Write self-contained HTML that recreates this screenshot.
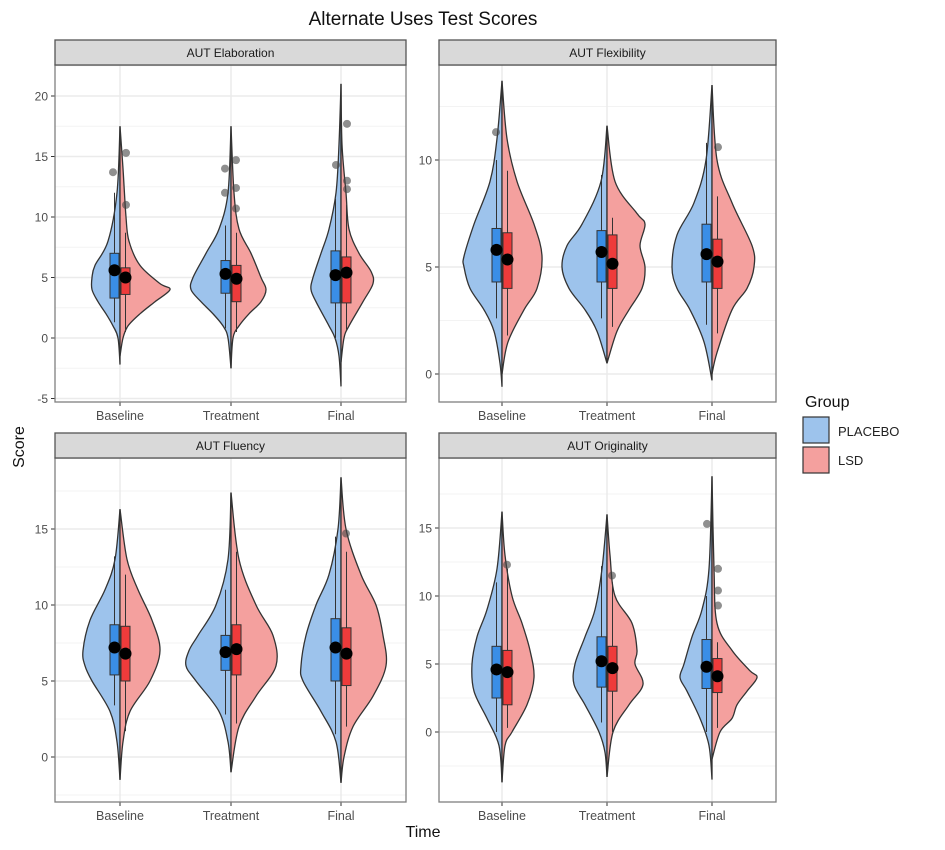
<!DOCTYPE html>
<html><head><meta charset="utf-8"><style>
body{margin:0;background:#fff;}
svg{display:block;font-family:"Liberation Sans",sans-serif;}
</style></head><body>
<svg id="s" width="945" height="850" xmlns="http://www.w3.org/2000/svg">
<text x="423" y="25" font-size="19" text-anchor="middle" fill="#111">Alternate Uses Test Scores</text>
<text x="423" y="837" font-size="16" text-anchor="middle" fill="#111">Time</text>
<text transform="translate(24,447) rotate(-90)" font-size="16" text-anchor="middle" fill="#111">Score</text>
<text x="805" y="407" font-size="16" fill="#111">Group</text>
<rect x="803" y="417" width="26" height="26" fill="#9dc3ec" stroke="#333" stroke-width="1.2"/>
<rect x="803" y="447" width="26" height="26" fill="#f4a09e" stroke="#333" stroke-width="1.2"/>
<text x="838" y="436" font-size="13" fill="#222">PLACEBO</text>
<text x="838" y="465" font-size="13" fill="#222">LSD</text>
<g id="g"></g>
</svg>
<script>
var NS="http://www.w3.org/2000/svg",G=document.getElementById('g');
function el(t,a,txt){var e=document.createElementNS(NS,t);for(var k in a)e.setAttribute(k,a[k]);if(txt!=null)e.textContent=txt;G.appendChild(e);return e;}
function cr(pts){
  var d="";for(var i=0;i<pts.length-1;i++){var p0=pts[i-1]||pts[i],p1=pts[i],p2=pts[i+1],p3=pts[i+2]||p2;
  var c1=[p1[0]+(p2[0]-p0[0])/6,p1[1]+(p2[1]-p0[1])/6],c2=[p2[0]-(p3[0]-p1[0])/6,p2[1]-(p3[1]-p1[1])/6];
  d+=" C"+c1[0].toFixed(1)+","+c1[1].toFixed(1)+" "+c2[0].toFixed(1)+","+c2[1].toFixed(1)+" "+p2[0].toFixed(1)+","+p2[1].toFixed(1);}return d;}
var P=[
 {x0:55,x1:406,y0:40,y1:398,title:"AUT Elaboration",z:338,k:12.1,ticks:[-5,0,5,10,15,20],lo:-5.3,hi:22.6,cx:[120,231,341],
  v:[
  {top:17.5,bot:-2.2,p:[[12,3],[8,12],[6,25],[5,28],[4,28],[3,22],[2,14],[1,7],[0,2]],l:[[14,3],[10,6],[8,9],[6,20],[4.5,40],[4,50],[3,35],[2,20],[1,8],[0,3]],lbot:-1.5,
   bp:[3.3,7,1.3,12,5.6],bl:[3.6,5.8,0.5,8.7,5.0]},
  {top:17.5,bot:-2.5,p:[[12,3],[9,12],[7,25],[5,38],[4,40],[3,30],[2,18],[1,8],[0,3]],l:[[12,3],[9,8],[7,20],[5,30],[4,35],[3,30],[2,18],[1,8],[0,2]],lbot:-2.5,
   bp:[3.7,6.4,0.8,9.3,5.3],bl:[3,6,0.5,8.7,4.9]},
  {top:21,bot:-4,p:[[16,2],[12,5],[9,12],[7,20],[5,28],[4,30],[3,25],[1,12],[0,6],[-1.5,2]],l:[[16,1],[12,5],[9,8],[7,18],[5.5,30],[4.5,32],[3,22],[1,8],[0,3]],lbot:-2,
   bp:[2.9,7.2,0,11.5,5.2],bl:[2.9,6.7,0.7,11,5.4]}],
  out:[[113,13.7],[126,15.3],[126,11],[225,14],[225,12],[236,14.7],[236,12.4],[236,10.7],[336,14.3],[347,17.7],[347,13],[347,12.3]]},
 {x0:439,x1:776,y0:40,y1:398,title:"AUT Flexibility",z:374,k:21.4,ticks:[0,5,10],lo:-1.1,hi:14.4,cx:[502,607,712],
  v:[
  {top:13.7,bot:-0.6,p:[[11,5],[9,12],[7,28],[5.5,38],[5,38],[4,32],[3,18],[2,8],[0.5,2]],l:[[11,5],[9,15],[7,32],[5.5,40],[4,35],[3,22],[1.5,6]],lbot:0,
   bp:[4.3,6.8,2.6,10,5.8],bl:[4,6.6,1.8,9.5,5.35]},
  {top:11.6,bot:0.5,p:[[9,6],[7,25],[6,40],[5,45],[4,38],[3,22],[2,10]],l:[[9,8],[7.5,30],[7,38],[6,33],[5,38],[4,35],[3,22],[2,10]],lbot:0.5,
   bp:[4.3,6.7,2.6,9.3,5.7],bl:[4,6.5,2.2,7.3,5.15]},
  {top:13.5,bot:-0.3,p:[[10,6],[8,18],[6.5,35],[5,40],[4,35],[3,22],[1.5,8]],l:[[10,5],[8,20],[6,40],[5,42],[4,35],[3,20],[1,5]],lbot:0,
   bp:[4.3,7,2.3,10.8,5.6],bl:[4,6.3,1.9,8.3,5.25]}],
  out:[[496,11.3],[718,10.6]]},
 {x0:55,x1:406,y0:433,y1:798,title:"AUT Fluency",z:757,k:15.2,ticks:[0,5,10,15],lo:-2.7,hi:19.5,cx:[120,231,341],
  v:[
  {top:16.3,bot:-1.5,p:[[13,5],[11,15],[9,30],[7,37],[6,35],[5,28],[3,10],[1,3]],l:[[13,7],[11,18],[9,32],[7,40],[5,30],[3,10],[1,3]],lbot:-1.5,
   bp:[5.4,8.7,3.4,13.2,7.2],bl:[5,8.6,1.7,12,6.8]},
  {top:17.4,bot:-1,p:[[13,3],[10,15],[8,33],[7,42],[6,45],[5,35],[3,12],[1,3]],l:[[13,8],[10,25],[8,42],[6,45],[4,25],[2,8]],lbot:-1,
   bp:[5.7,8,2.8,11,6.9],bl:[5.4,8.7,2.2,13.5,7.1]},
  {top:18.4,bot:-1.7,p:[[15,3],[12,12],[10,25],[8,35],[6,40],[5,38],[3,20],[1,5]],l:[[15,5],[12,20],[10,35],[8,42],[6,45],[4,32],[2,12],[0,3]],lbot:-1.7,
   bp:[5,9.1,1.5,14.5,7.2],bl:[4.7,8.5,2,13.5,6.8]}],
  out:[[346,14.7]]},
 {x0:439,x1:776,y0:433,y1:798,title:"AUT Originality",z:732,k:13.6,ticks:[0,5,10,15],lo:-4.85,hi:19.9,cx:[502,607,712],
  v:[
  {top:16.2,bot:-3.7,p:[[12,5],[9,15],[7,25],[5,30],[3,28],[1,15],[-1,3]],l:[[13,3],[10,10],[8,20],[6,28],[4,32],[2,25],[0,10],[-1,3]],lbot:-3.7,
   bp:[2.5,6.3,0,11,4.6],bl:[2,6,0.3,12,4.4]},
  {top:16,bot:-3.3,p:[[12,5],[9,12],[7,22],[5,32],[3.5,33],[2,22],[0,8],[-1.5,2]],l:[[13,3],[10,8],[8,25],[6,30],[5,28],[3.5,36],[2,22],[0,6]],lbot:-3.3,
   bp:[3.3,7,0.7,12.2,5.2],bl:[3,6.3,0,11,4.7]},
  {top:18.8,bot:-3.5,p:[[12,3],[9,10],[7,20],[5,28],[4,32],[3,25],[1,12],[-1,3]],l:[[12,2],[8,5],[6,20],[4.5,38],[4,45],[3,35],[2,25],[1,20],[0,8]],lbot:-2,
   bp:[3.2,6.8,0,10,4.8],bl:[2.9,5.4,0.3,6.6,4.1]}],
  out:[[707,15.3],[718,12],[718,10.4],[718,9.3],[507,12.3],[612,11.5]]}
];
P.forEach(function(p){
  var y0=p.y0+25, Y=function(v){return p.z-v*p.k;};
  el('rect',{x:p.x0,y:y0,width:p.x1-p.x0,height:p.y1-y0+4,fill:'#fff'});
  var bot=p.y1+4;
  for(var i=0;i<p.ticks.length+1;i++){var v=p.ticks[0]-2.5+5*i;var yy=Y(v);if(yy>y0&&yy<bot)el('line',{x1:p.x0,x2:p.x1,y1:yy,y2:yy,stroke:'#f3f3f3','stroke-width':1});}
  p.ticks.forEach(function(t){var yy=Y(t);el('line',{x1:p.x0,x2:p.x1,y1:yy,y2:yy,stroke:'#ebebeb','stroke-width':1.5});
    el('line',{x1:p.x0-4,x2:p.x0,y1:yy,y2:yy,stroke:'#333'});
    el('text',{x:p.x0-7,y:yy+4.5,'font-size':12,'text-anchor':'end',fill:'#4d4d4d'},String(t));});
  var labs=["Baseline","Treatment","Final"];
  p.cx.forEach(function(c,i){el('line',{x1:c,x2:c,y1:y0,y2:bot,stroke:'#ebebeb','stroke-width':1.5});
    el('line',{x1:c,x2:c,y1:bot,y2:bot+4,stroke:'#333'});
    el('text',{x:c,y:bot+18,'font-size':12.5,'text-anchor':'middle',fill:'#4d4d4d'},labs[i]);});
  p.v.forEach(function(v,i){var c=p.cx[i];
    var pts=[[c,Y(v.top)]].concat(v.p.map(function(q){return [c-q[1],Y(q[0])];})).concat([[c,Y(v.bot)]]);
    el('path',{d:"M"+pts[0][0]+","+pts[0][1]+cr(pts)+"Z",fill:'#9dc3ec',stroke:'#333','stroke-width':1.3});
    var pl=[[c,Y(v.top)]].concat(v.l.map(function(q){return [c+q[1],Y(q[0])];})).concat([[c,Y(v.lbot)]]);
    el('path',{d:"M"+pl[0][0]+","+pl[0][1]+cr(pl)+"Z",fill:'#f4a09e',stroke:'#333','stroke-width':1.3});
    [[v.bp,c-10,'#3a8ee6'],[v.bl,c+1,'#ee3b3b']].forEach(function(b){var s=b[0],x=b[1];
      el('line',{x1:x+4.5,x2:x+4.5,y1:Y(s[2]),y2:Y(s[3]),stroke:'#333','stroke-width':1});
      el('rect',{x:x,y:Y(s[1]),width:9,height:Y(s[0])-Y(s[1]),fill:b[2],stroke:'#333','stroke-width':1});});
    el('circle',{cx:c-5.5,cy:Y(v.bp[4]),r:6,fill:'#000'});
    el('circle',{cx:c+5.5,cy:Y(v.bl[4]),r:6,fill:'#000'});
  });
  p.out.forEach(function(o){el('circle',{cx:o[0],cy:Y(o[1]),r:4,fill:'#444','fill-opacity':0.6});});
  el('rect',{x:p.x0,y:y0,width:p.x1-p.x0,height:bot-y0,fill:'none',stroke:'#7f7f7f','stroke-width':1.3});
  el('rect',{x:p.x0,y:p.y0,width:p.x1-p.x0,height:25,fill:'#d9d9d9',stroke:'#555','stroke-width':1.3});
  el('text',{x:(p.x0+p.x1)/2,y:p.y0+17,'font-size':12,'text-anchor':'middle',fill:'#1a1a1a'},p.title);
});
</script>
</body></html>
